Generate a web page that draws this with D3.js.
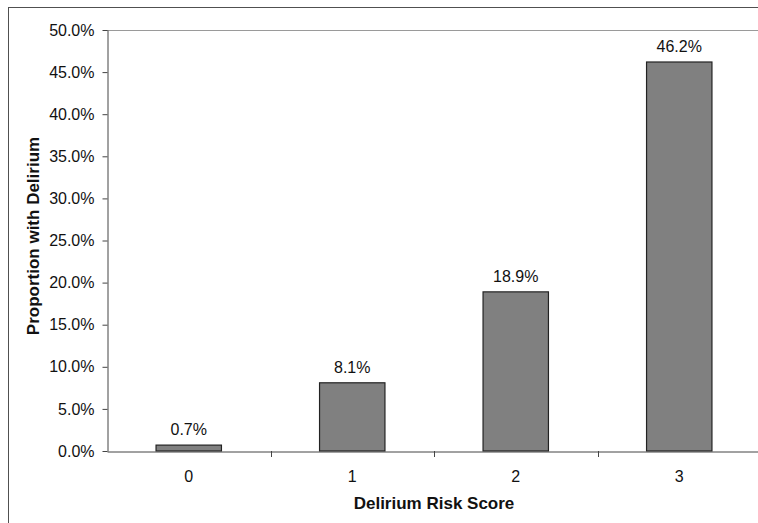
<!DOCTYPE html>
<html>
<head>
<meta charset="utf-8">
<script src="https://cdn.jsdelivr.net/npm/d3@7"></script>
<style>
  html, body { margin: 0; padding: 0; background: #fff; }
  svg { display: block; font-family: Arial, "Liberation Sans", sans-serif; }
</style>
</head>
<body>
<svg id="chart" width="758" height="523"></svg>
<script>
const categories = ["0", "1", "2", "3"];
const values = [0.007, 0.081, 0.189, 0.462];
const yTicks = [0, 0.05, 0.10, 0.15, 0.20, 0.25, 0.30, 0.35, 0.40, 0.45, 0.50];
const xTitle = "Delirium Risk Score";
const yTitle = "Proportion with Delirium";

(function () {
const svg = d3.select("#chart");
const pL = 107, pR = 761, pT = 30, pB = 451;
const FONT = "Arial, 'Liberation Sans', sans-serif";

// outer frame
svg.append("rect").attr("x", 8.5).attr("y", 7.5).attr("width", 800).attr("height", 600)
  .attr("fill", "none").attr("stroke", "#505050").attr("stroke-width", 1);

const x = d3.scaleBand().domain(categories).range([pL, pR]).paddingInner(0).paddingOuter(0);
const y = d3.scaleLinear().domain([0, 0.5]).range([pB, pT]);

// top border of plot area
svg.append("line").attr("x1", pL).attr("x2", 800).attr("y1", pT + 0.5).attr("y2", pT + 0.5)
  .attr("stroke", "#9a9a9a").attr("stroke-width", 1);

const fmt = d3.format(".1%");

// y axis
const yAxis = svg.append("g").attr("transform", `translate(${pL + 0.5},0)`)
  .call(d3.axisLeft(y).tickValues(yTicks).tickFormat(fmt).tickSize(5).tickSizeOuter(0));
yAxis.select(".domain").attr("stroke", "#444");
yAxis.selectAll(".tick line").attr("stroke", "#444");
yAxis.selectAll(".tick text").attr("font-size", "16px").attr("fill", "#111")
  .attr("font-family", FONT).attr("x", -13);

// bars
const bw = x.bandwidth() * 0.4;
svg.append("g").selectAll("rect").data(values).join("rect")
  .attr("x", (d, i) => x(categories[i]) + (x.bandwidth() - bw) / 2)
  .attr("y", d => y(d))
  .attr("width", bw)
  .attr("height", d => pB - y(d))
  .attr("fill", "#808080").attr("stroke", "#222").attr("stroke-width", 1.2);

// data labels
svg.append("g").selectAll("text").data(values).join("text")
  .attr("x", (d, i) => x(categories[i]) + x.bandwidth() / 2)
  .attr("y", d => y(d) - 10)
  .attr("text-anchor", "middle").attr("font-size", "16px").attr("fill", "#111")
  .attr("font-family", FONT)
  .text(d => fmt(d));

// x axis
const xAxis = svg.append("g").attr("transform", `translate(0,${pB + 0.5})`)
  .call(d3.axisBottom(x).tickSize(0).tickSizeOuter(0));
xAxis.select(".domain").attr("stroke", "#444");
xAxis.selectAll(".tick text").attr("font-size", "16px").attr("fill", "#111")
  .attr("font-family", FONT).attr("dy", 0).attr("y", 30);
// boundary ticks between categories
const bounds = categories.slice(1).map(c => x(c));
svg.append("g").selectAll("line").data(bounds).join("line")
  .attr("x1", d => Math.round(d) + 0.5).attr("x2", d => Math.round(d) + 0.5)
  .attr("y1", pB).attr("y2", pB + 6)
  .attr("stroke", "#444").attr("stroke-width", 1);

// titles
svg.append("text").attr("x", (pL + pR) / 2).attr("y", 509)
  .attr("text-anchor", "middle").attr("font-size", "17px").attr("font-weight", "bold").attr("fill", "#111")
  .attr("font-family", FONT)
  .text(xTitle);
svg.append("text").attr("transform", `translate(39,236) rotate(-90)`)
  .attr("text-anchor", "middle").attr("font-size", "17px").attr("font-weight", "bold").attr("fill", "#111")
  .attr("font-family", FONT)
  .text(yTitle);
})();
</script>
</body>
</html>
